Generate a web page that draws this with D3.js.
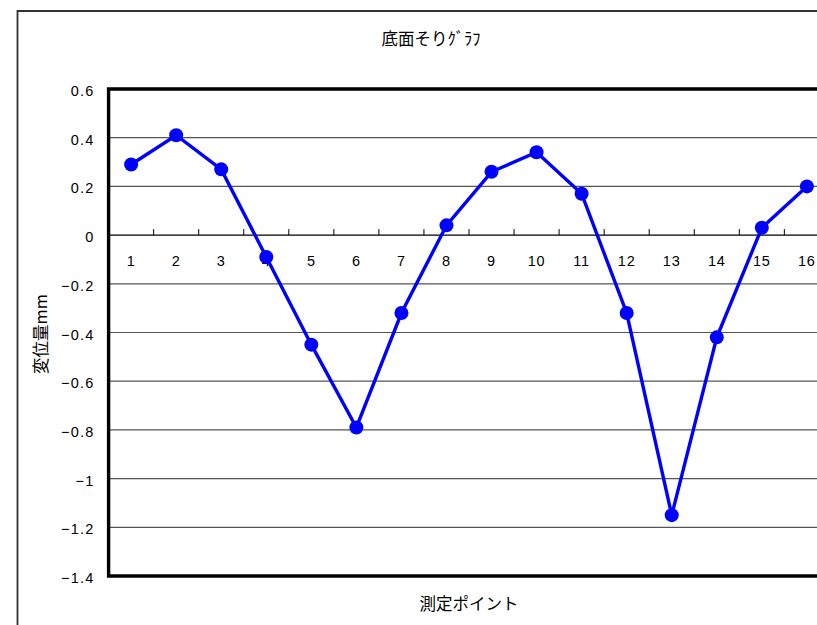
<!DOCTYPE html>
<html><head><meta charset="utf-8">
<script src="https://cdn.jsdelivr.net/npm/d3@7"></script>
<style>body{margin:0;background:#fff;overflow:hidden}</style>
</head><body>
<script>
const categories = ["1","2","3","4","5","6","7","8","9","10","11","12","13","14","15","16"];
const values = [0.29,0.41,0.27,-0.09,-0.45,-0.79,-0.32,0.04,0.26,0.34,0.17,-0.32,-1.15,-0.42,0.03,0.20];
const yTicks = [0.6,0.4,0.2,0,-0.2,-0.4,-0.6,-0.8,-1,-1.2,-1.4];
const title = "底面そりｸﾞﾗﾌ";
const xTitle = "測定ポイント";
const yTitle = "変位量mm";

const W = 817, H = 625;
const svg = d3.select("body").append("svg").attr("width", W).attr("height", H);
const L = 108.6, R = 829.4, T = 89, B = 576;
const jp = "'Noto Sans CJK JP', sans-serif";
const num = "'Liberation Sans', Arial, sans-serif";

// outer chart border (left and top visible)
svg.append("path").attr("d","M17.5,700V11H900")
  .attr("fill","none").attr("stroke","#333").attr("stroke-width",1.8);

const x = d3.scaleBand().domain(categories).range([L,R]).padding(0);
const y = d3.scaleLinear().domain([-1.4,0.6]).range([B,T]);

// gridlines
svg.append("g").selectAll("line").data(yTicks.filter(v=>v!==0.6 && v!==-1.4 && v!==0)).join("line")
  .attr("x1",L).attr("x2",R).attr("y1",d=>y(d)).attr("y2",d=>y(d))
  .attr("stroke","#555").attr("stroke-width",1.2);

// y axis labels
const fmt = d => d < 0 ? "−" + Math.abs(d) : String(d);
svg.append("g").selectAll("text").data(yTicks).join("text")
  .attr("x",94.5).attr("y",d=>y(d)+7).attr("text-anchor","end")
  .attr("font-family",num).attr("font-size",14.5).attr("letter-spacing","1.2px")
  .attr("fill","#000").text(fmt);

// zero line (category axis)
svg.append("line").attr("x1",L).attr("x2",R).attr("y1",y(0)).attr("y2",y(0))
  .attr("stroke","#000").attr("stroke-width",1.2);
// tick marks between categories
svg.append("g").selectAll("line").data(categories.slice(1)).join("line")
  .attr("x1",d=>x(d)).attr("x2",d=>x(d)).attr("y1",y(0)).attr("y2",y(0)-6)
  .attr("stroke","#000").attr("stroke-width",1);
// category labels
svg.append("g").selectAll("text").data(categories).join("text")
  .attr("x",d=>x(d)+x.bandwidth()/2).attr("y",y(0)+31).attr("text-anchor","middle")
  .attr("font-family",num).attr("font-size",14.5).attr("letter-spacing","0.8px")
  .attr("fill","#000").text(d=>d);

// plot borders: left, top, bottom thick
svg.append("path").attr("d",`M${R},${T}H${L}V${B}H${R}`)
  .attr("fill","none").attr("stroke","#000").attr("stroke-width",3.4);

// line and markers
const line = d3.line().x((d,i)=>x(categories[i])+x.bandwidth()/2).y(d=>y(d));
svg.append("path").datum(values).attr("d",line).attr("fill","none")
  .attr("stroke","#0000FF").attr("stroke-width",3.4);
svg.append("g").selectAll("circle").data(values).join("circle")
  .attr("cx",(d,i)=>x(categories[i])+x.bandwidth()/2).attr("cy",d=>y(d)).attr("r",7)
  .attr("fill","#0000FF");

// titles
svg.append("text").attr("x",431).attr("y",45).attr("text-anchor","middle")
  .attr("font-family",jp).attr("font-size",16.5).attr("fill","#000").text(title);
svg.append("text").attr("x",469).attr("y",610).attr("text-anchor","middle")
  .attr("font-family",jp).attr("font-size",16.5).attr("fill","#000").text(xTitle);
svg.append("text").attr("transform",`translate(47,334) rotate(-90)`).attr("text-anchor","middle")
  .attr("font-family",jp).attr("font-size",16.5).attr("fill","#000").text(yTitle);
</script>
</body></html>
